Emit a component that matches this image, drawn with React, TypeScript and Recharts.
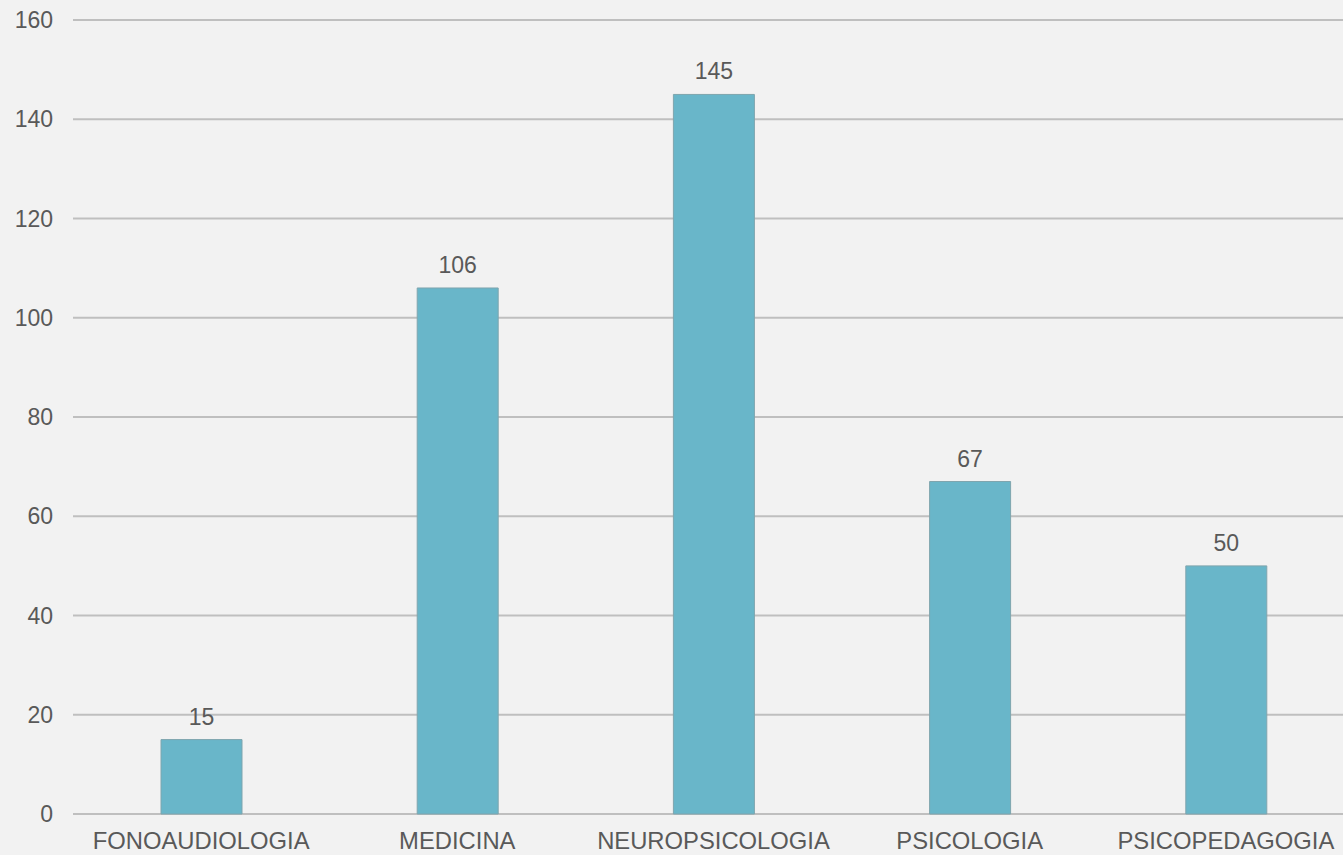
import React from 'react';
import { BarChart, Bar, XAxis, YAxis, CartesianGrid, LabelList } from 'recharts';

const categories = ['FONOAUDIOLOGIA', 'MEDICINA', 'NEUROPSICOLOGIA', 'PSICOLOGIA', 'PSICOPEDAGOGIA'];
const counts = [15, 106, 145, 67, 50];
const yTicks = [0, 20, 40, 60, 80, 100, 120, 140, 160];

const data = categories.map((name, i) => ({ name, value: counts[i] }));

const font = { fontFamily: '"Liberation Sans", Arial, sans-serif', fontSize: 23, fill: '#595959' };
const catFont = { ...font, fontSize: 23.8 };

const App: React.FC = () => {
  return (
    <div
      style={{
        position: 'fixed',
        left: 0,
        top: 0,
        width: 1343,
        height: 855,
        overflow: 'hidden',
        background: '#f2f2f2',
      }}
    >
      <BarChart
        width={1354}
        height={855}
        data={data}
        margin={{ top: 20, right: 0, bottom: 0, left: 0 }}
        style={{ background: '#f2f2f2' }}
      >
        <CartesianGrid vertical={false} stroke="#bfbfbf" strokeWidth={2} />
        <XAxis
          dataKey="name"
          height={41}
          tickLine={false}
          axisLine={false}
          tickSize={0}
          tickMargin={18}
          interval={0}
          tick={catFont}
        />
        <YAxis
          width={73}
          domain={[0, 160]}
          ticks={yTicks}
          tickLine={false}
          axisLine={false}
          tickSize={0}
          tickMargin={20}
          tick={font}
        />
        <Bar dataKey="value" fill="#69b6c9" stroke="#7fa5ae" strokeWidth={1} barSize={81} isAnimationActive={false}>
          <LabelList dataKey="value" position="top" offset={15} style={font} />
        </Bar>
      </BarChart>
    </div>
  );
};

export default App;
